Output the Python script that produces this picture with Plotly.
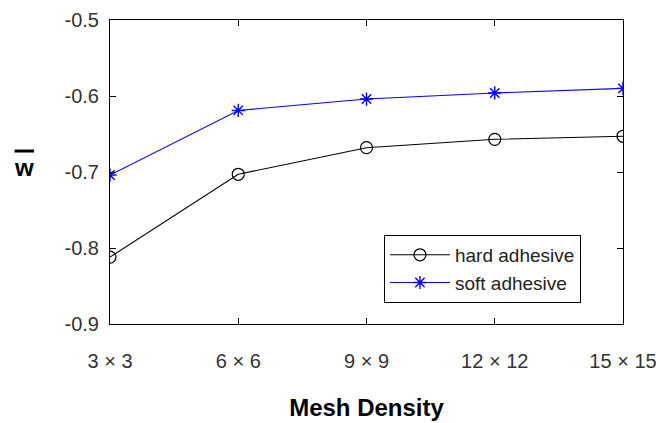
import plotly.graph_objects as go

categories = ["3 × 3", "6 × 6", "9 × 9", "12 × 12", "15 × 15"]
hard_adhesive = [-0.812, -0.703, -0.668, -0.657, -0.653]
soft_adhesive = [-0.704, -0.619, -0.604, -0.596, -0.590]
y_ticks = [-0.9, -0.8, -0.7, -0.6, -0.5]

fig = go.Figure()
fig.add_trace(go.Scatter(
    x=categories, y=hard_adhesive, name="hard adhesive", mode="lines+markers",
    line=dict(color="black", width=1.1),
    marker=dict(symbol="circle-open", size=12, color="black", line=dict(width=1.2)),
))
fig.add_trace(go.Scatter(
    x=categories, y=soft_adhesive, name="soft adhesive", mode="lines+markers",
    line=dict(color="#0000ff", width=1.1),
    marker=dict(symbol="asterisk-open", size=11, color="#0000ff", line=dict(width=1.4, color="#0000ff")),
))

fig.update_layout(
    width=656, height=423,
    margin=dict(l=110, r=33, t=20, b=99, autoexpand=False),
    paper_bgcolor="white", plot_bgcolor="white",
    font=dict(family="Liberation Sans, Arial, sans-serif", size=20, color="#333333"),
    showlegend=True,
    legend=dict(
        x=0.534, y=0.293, xanchor="left", yanchor="top",
        bordercolor="black", borderwidth=1, bgcolor="white",
        font=dict(size=19, color="#222222"), itemwidth=60, tracegroupgap=0,
    ),
    xaxis=dict(
        type="category", range=[0, 4], showgrid=False, zeroline=False,
        automargin=False,
        showline=True, linecolor="black", linewidth=1, mirror="ticks",
        ticks="inside", ticklen=6, tickcolor="black",
        ticklabelstandoff=19,
        tickfont=dict(size=20),
        title=dict(text="<b>Mesh Density</b>", font=dict(size=24, color="black"), standoff=28),
    ),
    yaxis=dict(
        range=[-0.9, -0.5], tickvals=y_ticks, ticktext=[f"{v:.1f}" for v in y_ticks],
        showgrid=False, zeroline=False, automargin=False,
        showline=True, linecolor="black", linewidth=1, mirror="ticks",
        ticks="inside", ticklen=6, tickcolor="black", ticklabelstandoff=6,
        tickfont=dict(size=20),
    ),
    annotations=[dict(
        text="<b>w</b>", xref="paper", yref="paper", x=-0.168, y=0.515,
        xanchor="center", yanchor="middle", showarrow=False,
        font=dict(size=24, color="black"),
    )],
    shapes=[dict(
        type="line", xref="paper", yref="paper",
        x0=-0.186, x1=-0.148, y0=0.569, y1=0.569,
        line=dict(color="black", width=3),
    )],
)

fig.write_html("out.html")
